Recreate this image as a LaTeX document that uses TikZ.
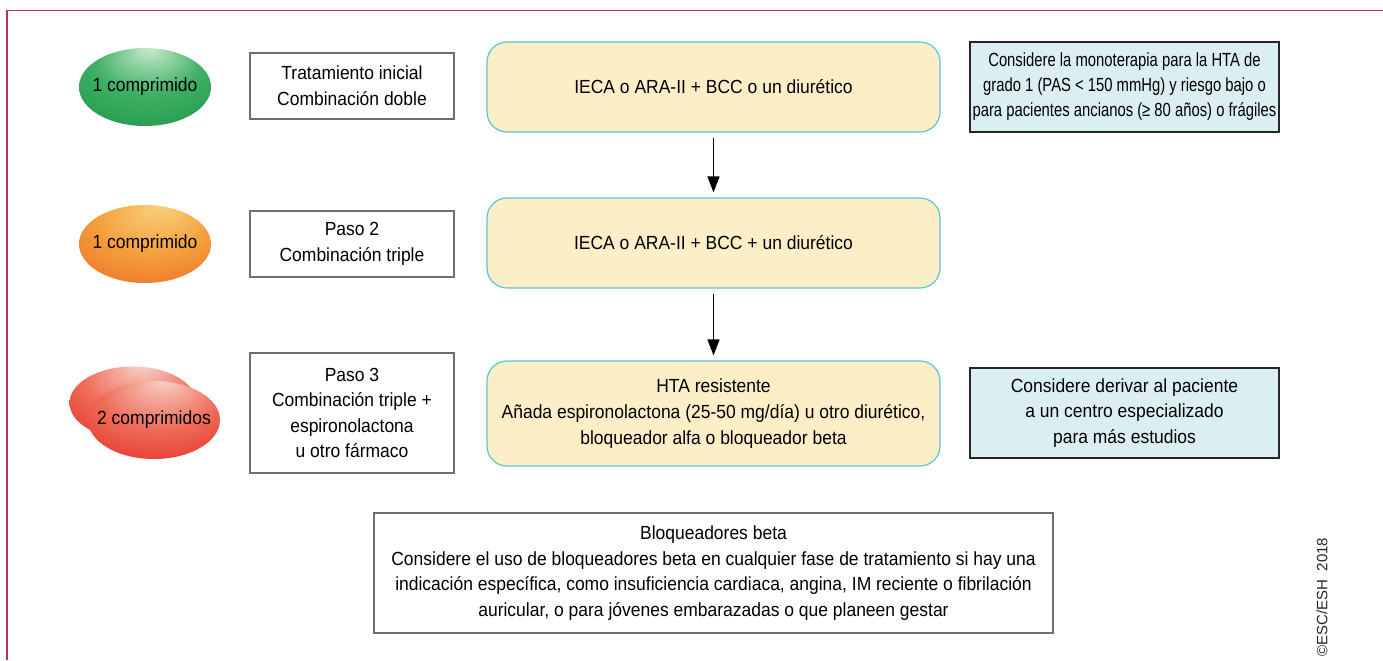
\documentclass[tikz,border=0pt]{standalone}
\usepackage{fontspec}
\setmainfont{Liberation Sans}[FakeStretch=0.92]
\newfontfamily\narrowfont{Liberation Sans}[FakeStretch=0.78]
\newfontfamily\copyfont{Liberation Sans}
\usepackage{tikz}
\usetikzlibrary{shapes,arrows.meta}
\definecolor{framered}{HTML}{BC3450}
\definecolor{drugcyan}{HTML}{5CC4D2}
\definecolor{drugfill}{HTML}{FCEFC8}
\definecolor{notefill}{HTML}{DBEFF2}
\definecolor{boxgray}{HTML}{6E6E6E}
\definecolor{pgreenlt}{HTML}{CDEBD2}
\definecolor{pgreen}{HTML}{3FB064}
\definecolor{pgreendk}{HTML}{1B9446}
\definecolor{porangelt}{HTML}{F9D27E}
\definecolor{porange}{HTML}{F49E3C}
\definecolor{porangedk}{HTML}{EC6424}
\definecolor{predlt}{HTML}{F9D4CC}
\definecolor{pred}{HTML}{EF6B58}
\definecolor{preddk}{HTML}{E2261F}
\pgfdeclareradialshading{pillgreen}{\pgfpoint{2bp}{26bp}}{color(0bp)=(pgreenlt); color(20bp)=(pgreen); color(42bp)=(pgreendk); color(50bp)=(pgreendk)}
\pgfdeclareradialshading{pillorange}{\pgfpoint{6bp}{26bp}}{color(0bp)=(porangelt); color(22bp)=(porange); color(44bp)=(porangedk); color(50bp)=(porangedk)}
\pgfdeclareradialshading{pillred}{\pgfpoint{4bp}{28bp}}{color(0bp)=(predlt); color(22bp)=(pred); color(44bp)=(preddk); color(50bp)=(preddk)}

\begin{document}
\begin{tikzpicture}[x=0.5pt, y=-0.5pt,
    every node/.style={font=\fontsize{9.5}{12.8}\selectfont, align=center, text=black},
    pill/.style={ellipse, minimum width=66pt, minimum height=39pt, inner xsep=-8pt, inner ysep=0pt},
    stepbox/.style={rectangle, draw=boxgray, line width=0.6pt, minimum width=102pt},
    drug/.style={rectangle, rounded corners=10pt, draw=drugcyan, fill=drugfill, line width=0.6pt, minimum width=226.5pt, minimum height=45pt},
    note/.style={rectangle, draw=black!85, fill=notefill, line width=0.6pt, minimum width=154.5pt, minimum height=45pt, inner xsep=1pt},
    flow/.style={-{Triangle[length=8pt, width=6pt]}, line width=0.7pt, shorten <=2.5pt, shorten >=2.5pt}]
    \useasboundingbox (0,0) rectangle (1383,660);
    \draw[framered, line width=0.8pt] (1383,10.5) -- (7,10.5) -- (7,660);

    % comprimidos
    \node[pill, shading=pillgreen] (pill1) at (145,87) {1 comprimido};
    \node[pill, shading=pillorange] (pill2) at (145,244) {1 comprimido};
    \node[pill, minimum width=63.5pt, minimum height=36.5pt, shading=pillred] (pill3b) at (133,403) {};
    \node[pill, shading=pillred] (pill3) at (154,420) {2 comprimidos};

    % pasos
    \node[stepbox, minimum height=33pt] (step1) at (352,86) {Tratamiento inicial\\Combinación doble};
    \node[stepbox, minimum height=33pt] (step2) at (352,244) {Paso 2\\Combinación triple};
    \node[stepbox, minimum height=60pt] (step3) at (352,413) {Paso 3\\Combinación triple +\\espironolactona\\u otro fármaco};

    % fármacos
    \node[drug] (drug1) at (713.5,87) {IECA o ARA-II + BCC o un diurético};
    \node[drug] (drug2) at (713.5,243) {IECA o ARA-II + BCC + un diurético};
    \node[drug, minimum height=52.5pt] (drug3) at (713.5,413.5) {HTA resistente\\Añada espironolactona (25-50 mg/día) u otro diurético,\\bloqueador alfa o bloqueador beta};
    \draw[flow] (drug1) -- (drug2);
    \draw[flow] (drug2) -- (drug3);

    % notas
    \node[note, font=\narrowfont\fontsize{9.5}{12.5}\selectfont] (note1) at (1124.5,87) {Considere la monoterapia para la HTA de\\grado 1 (PAS < 150 mmHg) y riesgo bajo o\\para pacientes ancianos (≥ 80 años) o frágiles};
    \node[note] (note2) at (1124.5,413) {Considere derivar al paciente\\a un centro especializado\\para más estudios};

    \node[stepbox, minimum width=339.5pt, minimum height=60pt] (beta) at (713.5,573) {Bloqueadores beta\\Considere el uso de bloqueadores beta en cualquier fase de tratamiento si hay una\\indicación específica, como insuficiencia cardiaca, angina, IM reciente o fibrilación\\auricular, o para jóvenes embarazadas o que planeen gestar};

    \node[rotate=90, font=\copyfont\fontsize{7.5}{8}\selectfont, text=black!85] (copy) at (1322,597) {©ESC/ESH\ \ 2018};
\end{tikzpicture}
\end{document}
